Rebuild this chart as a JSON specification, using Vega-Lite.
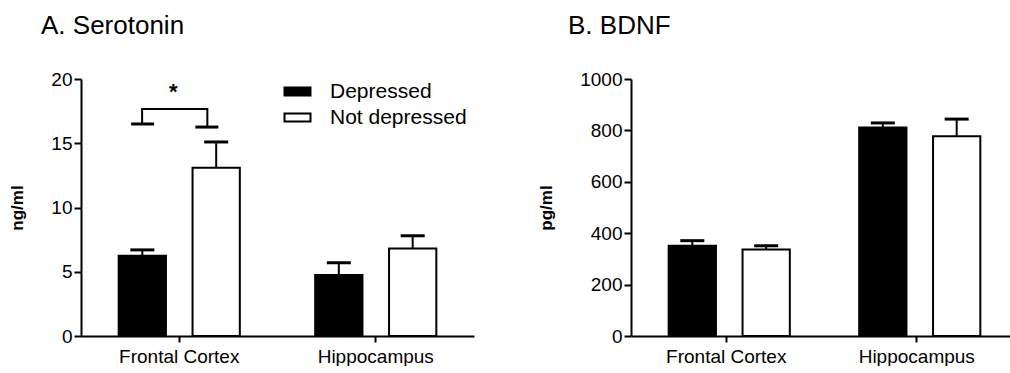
{
  "$schema": "https://vega.github.io/schema/vega-lite/v6.json",
  "padding": {"left": 8, "top": 13, "right": 0, "bottom": 0},
  "config": {
    "font": "Liberation Sans",
    "view": {"stroke": null},
    "axis": {"domainColor": "black", "domainWidth": 2, "tickColor": "black", "tickWidth": 2, "labelColor": "black", "labelFont": "Liberation Sans", "titleColor": "black", "titleFont": "Liberation Sans", "grid": false},
    "title": {"font": "Liberation Sans", "fontWeight": "normal", "fontSize": 26, "color": "black", "anchor": "start", "frame": "group"},
    "concat": {"spacing": 63}
  },
  "datasets": {
    "serotonin": [
      {"region": "Frontal Cortex", "group": "Depressed", "mean": 6.25, "upper": 6.7},
      {"region": "Frontal Cortex", "group": "Not depressed", "mean": 13.1, "upper": 15.1},
      {"region": "Hippocampus", "group": "Depressed", "mean": 4.75, "upper": 5.7},
      {"region": "Hippocampus", "group": "Not depressed", "mean": 6.8, "upper": 7.8}
    ],
    "bdnf": [
      {"region": "Frontal Cortex", "group": "Depressed", "mean": 351, "upper": 371},
      {"region": "Frontal Cortex", "group": "Not depressed", "mean": 337, "upper": 351},
      {"region": "Hippocampus", "group": "Depressed", "mean": 811, "upper": 829},
      {"region": "Hippocampus", "group": "Not depressed", "mean": 777, "upper": 844}
    ],
    "bracket": [
      {"bx": 0.311, "by": 16.5, "o": 1},
      {"bx": 0.311, "by": 17.67, "o": 2},
      {"bx": 0.643, "by": 17.67, "o": 3},
      {"bx": 0.643, "by": 16.26, "o": 4}
    ],
    "feet": [
      {"bx": 0.255, "bx2": 0.372, "by": 16.5},
      {"bx": 0.582, "bx2": 0.699, "by": 16.26}
    ],
    "star": [
      {"bx": 0.469, "by": 18.45, "label": "*"}
    ]
  },
  "hconcat": [
    {
      "title": {"text": "A. Serotonin", "dx": -40, "offset": 31},
      "width": 393,
      "height": 257,
      "layer": [
        {
          "data": {"name": "serotonin"},
          "encoding": {
            "x": {"field": "region", "type": "nominal", "sort": null, "scale": {"paddingInner": 0, "paddingOuter": 0},
                  "axis": {"title": null, "labelAngle": 0, "labelFontSize": 19, "tickSize": 6, "labelPadding": 5}},
            "xOffset": {"field": "group", "type": "nominal", "sort": null, "scale": {"paddingInner": 0.36, "paddingOuter": 0.51}},
            "y": {"field": "mean", "type": "quantitative", "title": "ng/ml",
                  "scale": {"domain": [0, 20], "nice": false},
                  "axis": {"values": [0, 5, 10, 15, 20], "labelFontSize": 19, "tickSize": 7, "labelPadding": 2, "titleFontSize": 17, "titleFontWeight": "bold", "titlePadding": 24}}
          },
          "layer": [
            {
              "mark": {"type": "bar", "stroke": "black", "strokeWidth": 2},
              "encoding": {
                "fill": {"field": "group", "type": "nominal",
                         "scale": {"domain": ["Depressed", "Not depressed"], "range": ["black", "white"]},
                         "legend": {"title": null, "orient": "none", "legendX": 206, "legendY": 2,
                                    "symbolType": "M-1.5,-0.45L1.5,-0.45L1.5,0.45L-1.5,0.45Z", "symbolSize": 300,
                                    "symbolStrokeColor": "black", "symbolStrokeWidth": 2,
                                    "labelFontSize": 21, "labelFont": "Liberation Sans", "labelColor": "black",
                                    "labelOffset": 22, "rowPadding": 4}}
              }
            },
            {
              "mark": {"type": "rule", "stroke": "black", "strokeWidth": 2},
              "encoding": {"y2": {"field": "upper"}}
            },
            {
              "mark": {"type": "tick", "color": "black", "size": 24, "thickness": 3, "opacity": 1},
              "encoding": {"y": {"field": "upper", "type": "quantitative", "title": "ng/ml"}}
            }
          ]
        },
        {
          "data": {"name": "bracket"},
          "mark": {"type": "line", "stroke": "black", "strokeWidth": 2},
          "encoding": {
            "x": {"field": "bx", "type": "quantitative", "scale": {"domain": [0, 2], "nice": false, "zero": false}, "axis": null},
            "y": {"field": "by", "type": "quantitative", "title": "ng/ml"},
            "order": {"field": "o"}
          }
        },
        {
          "data": {"name": "feet"},
          "mark": {"type": "rule", "stroke": "black", "strokeWidth": 3},
          "encoding": {
            "x": {"field": "bx", "type": "quantitative", "scale": {"domain": [0, 2], "nice": false, "zero": false}, "axis": null},
            "x2": {"field": "bx2"},
            "y": {"field": "by", "type": "quantitative", "title": "ng/ml"}
          }
        },
        {
          "data": {"name": "star"},
          "mark": {"type": "text", "fontSize": 22, "fontWeight": "bold", "baseline": "alphabetic", "align": "center", "color": "black"},
          "encoding": {
            "x": {"field": "bx", "type": "quantitative", "scale": {"domain": [0, 2], "nice": false, "zero": false}, "axis": null},
            "y": {"field": "by", "type": "quantitative", "title": "ng/ml"},
            "text": {"field": "label"}
          }
        }
      ],
      "resolve": {"scale": {"x": "independent"}}
    },
    {
      "title": {"text": "B. BDNF", "dx": -63, "offset": 31},
      "width": 381,
      "height": 257,
      "data": {"name": "bdnf"},
      "encoding": {
        "x": {"field": "region", "type": "nominal", "sort": null, "scale": {"paddingInner": 0, "paddingOuter": 0},
              "axis": {"title": null, "labelAngle": 0, "labelFontSize": 19, "tickSize": 6, "labelPadding": 5}},
        "xOffset": {"field": "group", "type": "nominal", "sort": null, "scale": {"paddingInner": 0.36, "paddingOuter": 0.51}},
        "y": {"field": "mean", "type": "quantitative", "title": "pg/ml",
              "scale": {"domain": [0, 1000], "nice": false},
              "axis": {"values": [0, 200, 400, 600, 800, 1000], "format": "d", "labelFontSize": 19, "tickSize": 7, "labelPadding": 2, "titleFontSize": 17, "titleFontWeight": "bold", "titlePadding": 24}}
      },
      "layer": [
        {
          "mark": {"type": "bar", "stroke": "black", "strokeWidth": 2},
          "encoding": {
            "fill": {"field": "group", "type": "nominal",
                     "scale": {"domain": ["Depressed", "Not depressed"], "range": ["black", "white"]},
                     "legend": null}
          }
        },
        {
          "mark": {"type": "rule", "stroke": "black", "strokeWidth": 2},
          "encoding": {"y2": {"field": "upper"}}
        },
        {
          "mark": {"type": "tick", "color": "black", "size": 24, "thickness": 3, "opacity": 1},
          "encoding": {"y": {"field": "upper", "type": "quantitative", "title": "pg/ml"}}
        }
      ]
    }
  ],
  "resolve": {"scale": {"fill": "independent"}, "legend": {"fill": "independent"}}
}
